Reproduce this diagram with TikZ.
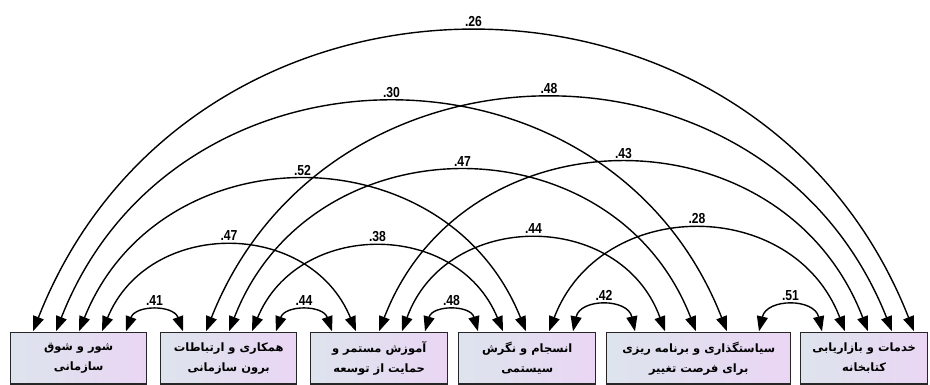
\documentclass[tikz,border=0pt]{standalone}
\usepackage{fontspec}
\setmainfont{Liberation Sans}
\newfontfamily\fa[Script=Arabic]{DejaVu Sans}
\newfontfamily\numfont[FakeStretch=0.84]{Liberation Sans}
\TeXXeTstate=1
\usetikzlibrary{arrows.meta}
\definecolor{boxL}{RGB}{221,228,237}
\definecolor{boxR}{RGB}{234,214,244}
\begin{document}
\begin{tikzpicture}[x=1pt,y=1pt,
  box/.style={draw=black!85, line width=1.4pt, left color=boxL, right color=boxR,
    anchor=north west, minimum height=51.5pt, inner sep=0pt, align=center,
    font=\fa\bfseries\fontsize{11.5}{20}\selectfont},
  corr/.style={line width=1.4pt,
    {Triangle[length=15pt,width=11pt]}-{Triangle[length=15pt,width=11pt]}},
  lab/.style={font=\numfont\bfseries\fontsize{14.5}{16}\selectfont, above, inner sep=1pt, yshift=4pt}]
\useasboundingbox (0,0) rectangle (930,385);

% boxes
\node[box, minimum width=136pt] (b1) at (10,53)  {\beginR شور و شوق\endR\\\beginR سازمانی\endR};
\node[box, minimum width=136pt] (b2) at (160,53) {\beginR همکاری و ارتباطات\endR\\\beginR برون سازمانی\endR};
\node[box, minimum width=137pt] (b3) at (310,53) {\beginR آموزش مستمر و\endR\\\beginR حمایت از توسعه\endR};
\node[box, minimum width=137pt] (b4) at (458,53) {\beginR انسجام و نگرش\endR\\\beginR سیستمی\endR};
\node[box, minimum width=184pt] (b5) at (606,53) {\beginR سیاستگذاری و برنامه ریزی\endR\\\beginR برای فرصت تغییر\endR};
\node[box, minimum width=127pt] (b6) at (800,53) {\beginR خدمات و بازاریابی\endR\\\beginR کتابخانه\endR};

% feet of the connectors on the box tops
\foreach \n/\x in {f1a/33,f1b/56,f1c/79,f1d/102,f1e/126,
                   f2a/183,f2b/206,f2c/229,f2d/252,f2e/276,
                   f3a/332,f3b/356,f3c/379,f3d/402,f3e/425,
                   f4a/478,f4b/503,f4c/526,f4d/549,f4e/573,
                   f5a/635,f5b/665,f5c/696,f5d/727,f5e/759,
                   f6a/822,f6b/845,f6c/868,f6d/892,f6e/914}
  \coordinate (\n) at (\x,53.7);

% correlations
\foreach \a/\b/\hc/\hh/\lbl in {
   f1a/f6e/440.5/300/.26, f1b/f5d/335.5/229/.30, f1c/f4c/223.5/151/.52,
   f1d/f3b/127/85/.47,    f1e/f2a/28.5/20/.41,
   f2b/f6d/343/233/.48,   f2c/f5c/233.5/160/.47, f2d/f4b/125.5/84/.38,
   f2e/f3a/28/20/.44,
   f3c/f6c/244.5/168/.43, f3d/f5b/131.5/92/.44,  f3e/f4a/26.5/20/.48,
   f4d/f6b/148/102/.28,   f4e/f5a/31/25/.42,
   f5e/f6a/31.5/25/.51}{
  \pgfmathsetmacro\ang{2*atan(\hh/\hc)}
  \pgfmathsetmacro\inang{180-\ang}
  \pgfmathsetmacro\lo{1.7029/(1+cos(\ang))}
  \draw[corr] (\a) to[out=\ang, in=\inang, looseness=\lo] node[lab]{\lbl} (\b);
}
\end{tikzpicture}
\end{document}
